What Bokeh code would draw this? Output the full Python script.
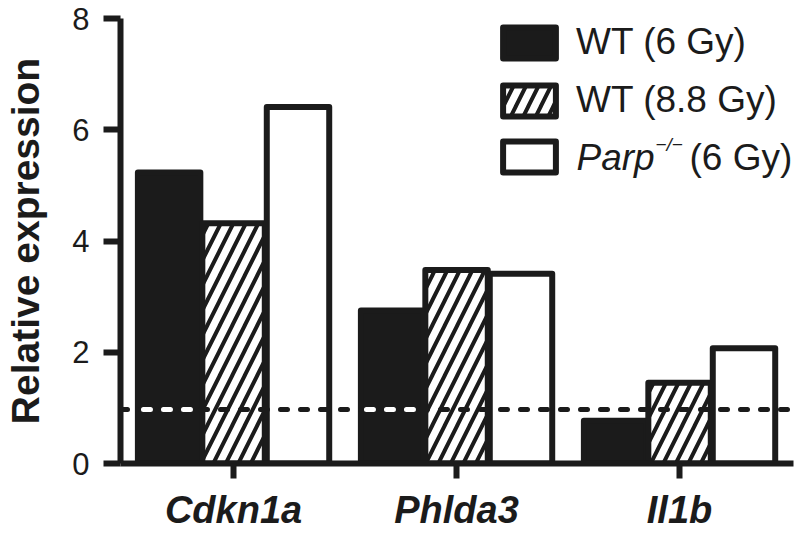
import numpy as np
from bokeh.plotting import figure
from bokeh.models import (FixedTicker, Span, Legend, LegendItem, Label, Range1d,
                          ColumnDataSource)
from bokeh.core.properties import value
from bokeh.embed import file_html
from bokeh.resources import INLINE

# ---- data ----
genes = ["Cdkn1a", "Phlda3", "Il1b"]
series_labels = ["WT (6 Gy)", "WT (8.8 Gy)"]
wt_6gy = [5.23, 2.75, 0.77]
wt_8_8gy = [4.32, 3.48, 1.45]
parp_6gy = [6.41, 3.41, 2.07]
y_ticks = [0, 2, 4, 6, 8]
reference_level = 0.97
y_title = "Relative expression"

# ---- style ----
INK = "#1b1b1b"
FONT = "Liberation Sans"
group_offsets = [-0.289, 0.0, 0.289]
bar_w = 0.28

x_idx = np.arange(len(genes))

p = figure(width=800, height=533, output_backend="svg", toolbar_location=None,
           x_range=Range1d(-0.507, 2.511), y_range=Range1d(0, 8),
           min_border_left=120, min_border_right=7, min_border_top=18,
           min_border_bottom=70)
p.xgrid.visible = False
p.ygrid.visible = False
p.outline_line_color = None
p.background_fill_color = "white"

styles = [
    dict(fill_color=INK),
    dict(fill_color="white", hatch_pattern="/", hatch_color=INK,
         hatch_scale=25, hatch_weight=4),
    dict(fill_color="white"),
]
renderers = []
for vals, off, st in zip([wt_6gy, wt_8_8gy, parp_6gy], group_offsets, styles):
    src = ColumnDataSource(dict(x=x_idx + off, top=vals))
    r = p.vbar(x="x", top="top", bottom=0, width=bar_w, source=src,
               line_color=INK, line_width=6, line_join="round", **st)
    renderers.append(r)

# dashed reference line (black), white dashes over black bars
p.add_layout(Span(location=reference_level, dimension="width", line_color=INK,
                  line_width=5, line_dash="7 13", line_cap="round"))
wt6 = np.array(wt_6gy)
above = wt6 > reference_level
xs = x_idx[above] + group_offsets[0]
p.segment(x0=xs - bar_w / 2 + 0.025, x1=xs + bar_w / 2 - 0.025,
          y0=reference_level, y1=reference_level, line_color="white",
          line_width=5, line_dash="7 13", line_cap="round", level="overlay")

# axes
for ax in (p.xaxis[0], p.yaxis[0]):
    ax.axis_line_width = 6
    ax.axis_line_color = INK
    ax.major_tick_line_width = 6
    ax.major_tick_line_color = INK
    ax.major_tick_in = 0
    ax.minor_tick_line_color = None
    ax.major_label_text_color = INK
    ax.major_label_text_font = FONT

p.xaxis.ticker = FixedTicker(ticks=[int(i) for i in x_idx])
p.xaxis.major_label_overrides = {int(i): g for i, g in zip(x_idx, genes)}
p.xaxis.major_tick_out = 15
p.xaxis.major_label_standoff = 10
p.xaxis.major_label_text_font_size = "38px"
p.xaxis.major_label_text_font_style = "bold italic"

p.yaxis.ticker = FixedTicker(ticks=y_ticks)
p.yaxis.major_tick_out = 17
p.yaxis.major_label_standoff = 14
p.yaxis.major_label_text_font_size = "31px"
p.yaxis.axis_label = y_title
p.yaxis.axis_label_text_font = FONT
p.yaxis.axis_label_text_font_size = "39px"
p.yaxis.axis_label_text_font_style = "bold"
p.yaxis.axis_label_text_color = INK
p.yaxis.axis_label_standoff = 22

# legend
glyph_w, glyph_h = 66, 39
item_gap = 16
leg_x, leg_y = 376, 287
legend = Legend(
    items=[LegendItem(label=value(series_labels[0]), renderers=[renderers[0]]),
           LegendItem(label=value(series_labels[1]), renderers=[renderers[1]]),
           LegendItem(label=value(" "), renderers=[renderers[2]])],
    location=(leg_x, leg_y), glyph_width=glyph_w, glyph_height=glyph_h,
    label_height=glyph_h, label_standoff=14, spacing=item_gap, padding=0, margin=0,
    label_text_font_size="37px", label_text_font=FONT, label_text_color=INK,
    border_line_color=None, background_fill_alpha=0)
p.add_layout(legend)

leg_top = leg_y + 3 * glyph_h + 2 * item_gap
third_cy = leg_top - 2 * (glyph_h + item_gap) - glyph_h / 2
text_x = leg_x + glyph_w + 14
p.add_layout(Label(x=text_x, y=third_cy, x_units="screen", y_units="screen",
                   text="Parp", text_font=FONT, text_font_size="37px",
                   text_font_style="italic", text_color=INK,
                   text_baseline="middle", text_align="left"))
p.add_layout(Label(x=text_x + 79, y=third_cy + 13, x_units="screen", y_units="screen",
                   text="\u2212/\u2212", text_font=FONT, text_font_size="19px",
                   text_font_style="italic", text_color=INK,
                   text_baseline="middle", text_align="left"))
p.add_layout(Label(x=text_x + 113, y=third_cy, x_units="screen", y_units="screen",
                   text="(6 Gy)", text_font=FONT, text_font_size="37px",
                   text_color=INK, text_baseline="middle", text_align="left"))

open("out.html", "w").write(file_html(p, INLINE))
